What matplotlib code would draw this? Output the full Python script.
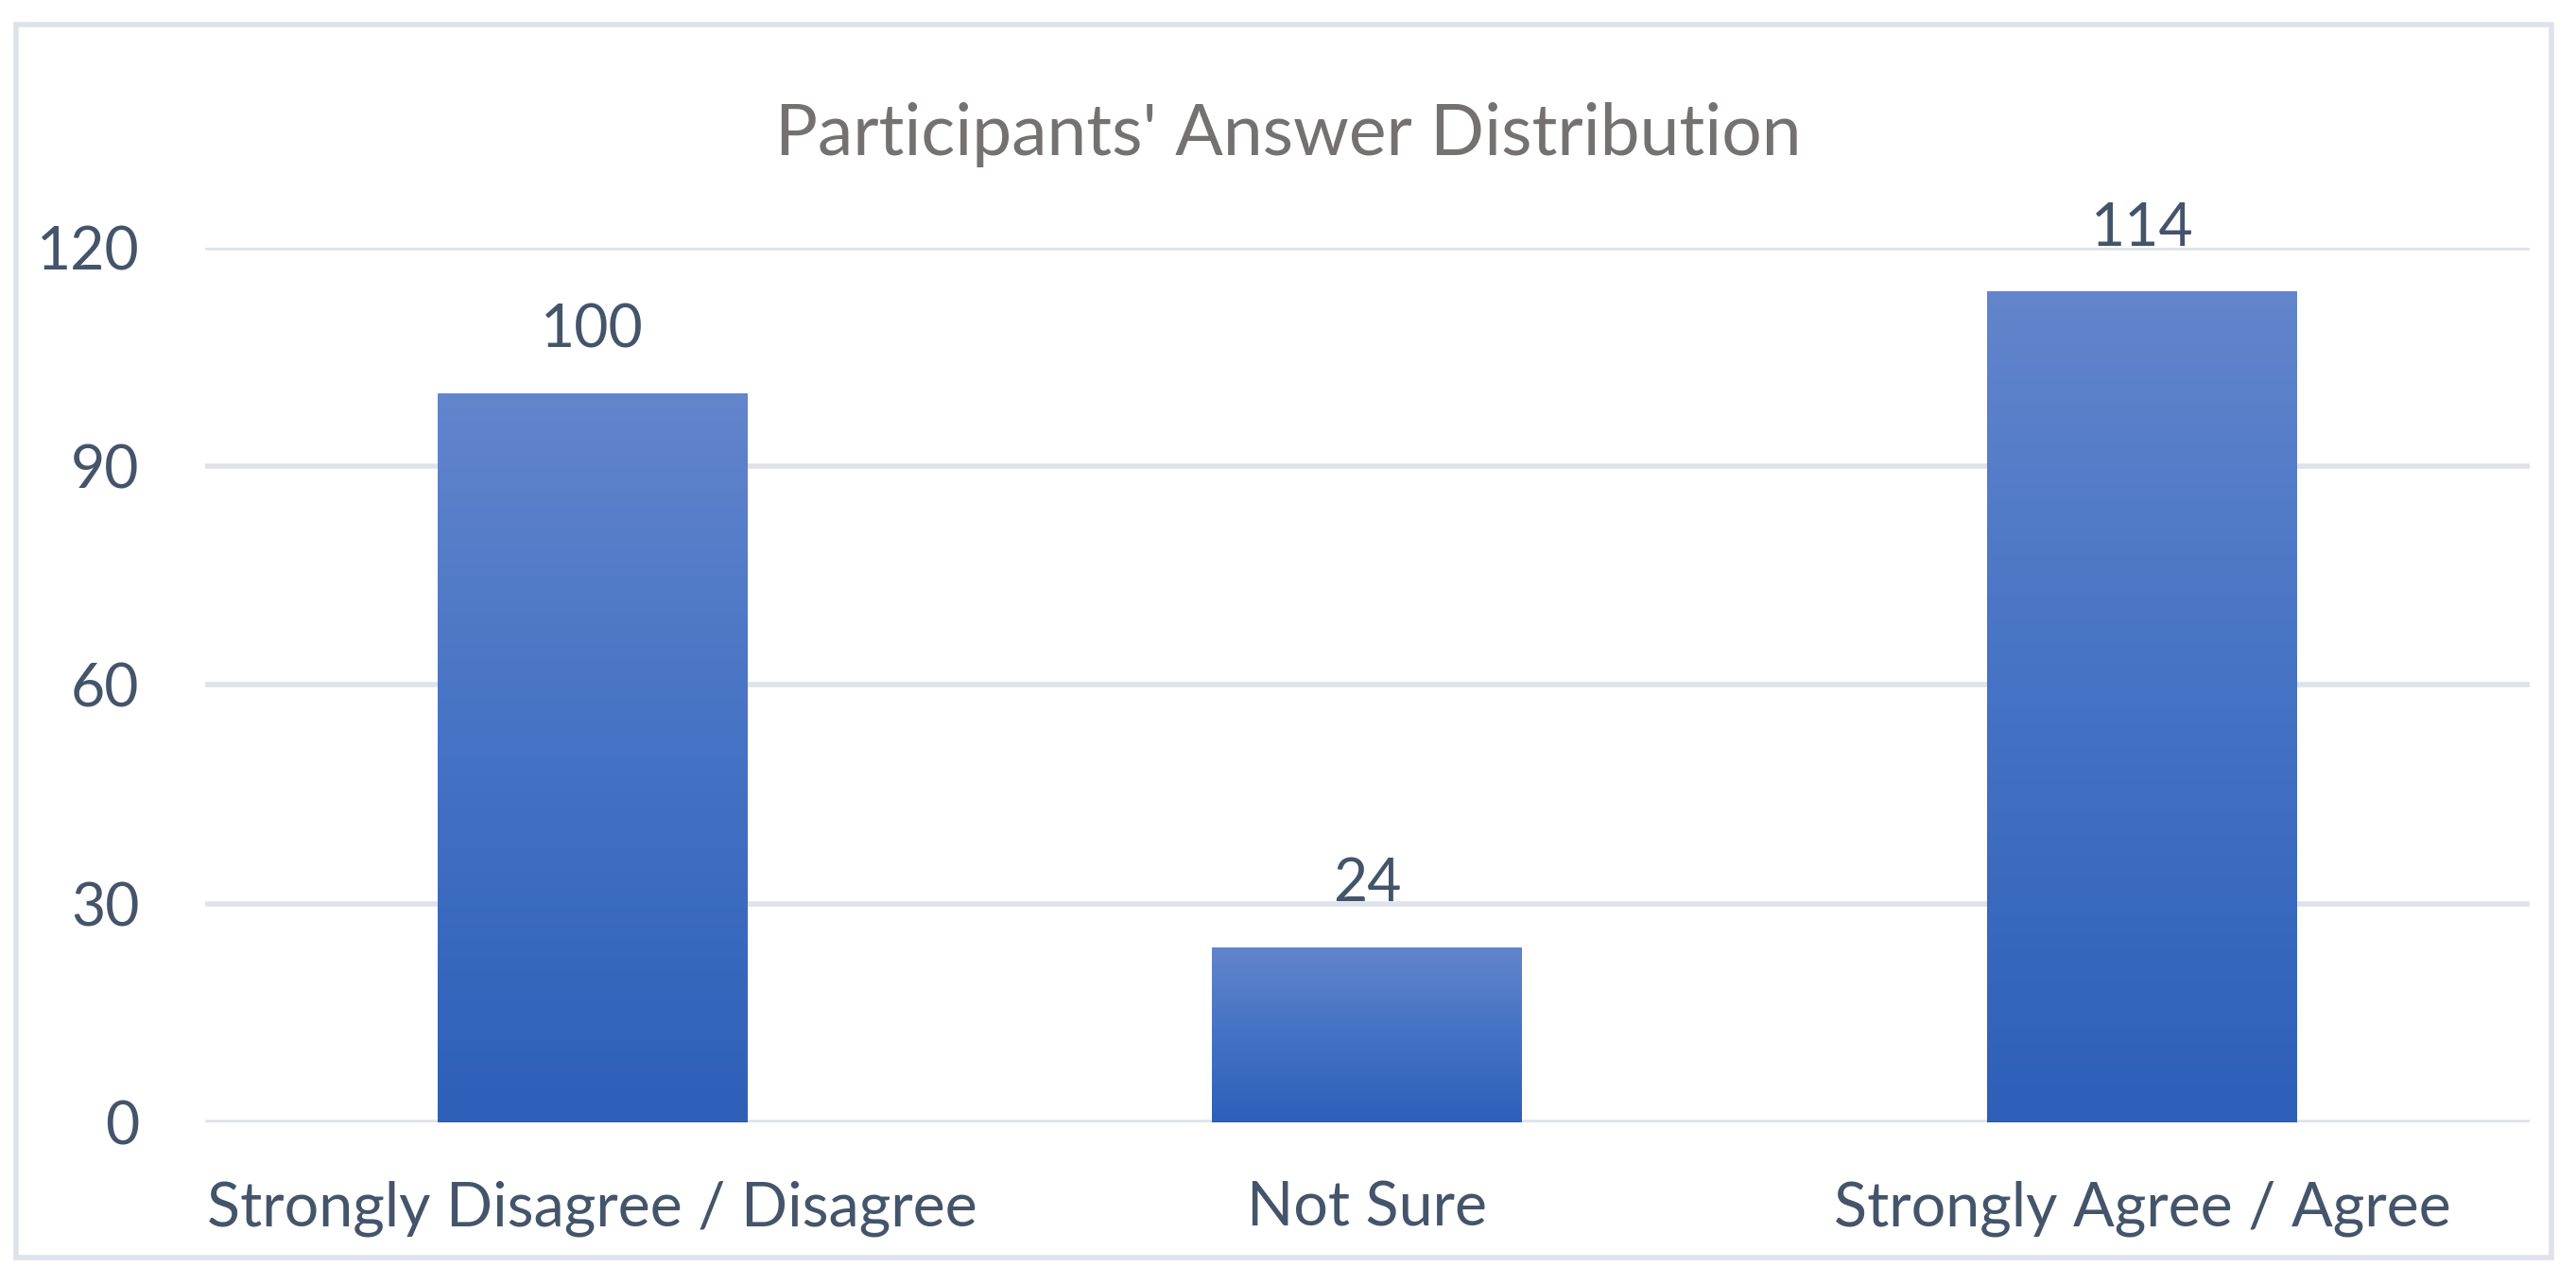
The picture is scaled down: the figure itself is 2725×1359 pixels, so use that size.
import numpy as np
import matplotlib
matplotlib.use("Agg")
import matplotlib.pyplot as plt
from matplotlib.colors import LinearSegmentedColormap
from matplotlib.patches import Rectangle

categories = ["Strongly Disagree / Disagree", "Not Sure", "Strongly Agree / Agree"]
counts = [100, 24, 114]
y_ticks = [0, 30, 60, 90, 120]
title = "Participants' Answer Distribution"

plt.rcParams["font.family"] = ["Lato", "DejaVu Sans"]
TEXT = "#44546a"
GRID = "#dee2ea"

fig = plt.figure(figsize=(27.25, 13.59), dpi=100)
ax = fig.add_axes([0.0796, 0.1266, 0.9024, 0.6806])

x = np.arange(len(categories))
bars = ax.bar(x, counts, width=0.4, color="none", zorder=3)

# vertical gradient inside each bar
grad = LinearSegmentedColormap.from_list("g", ["#2e5fb8", "#4472c4", "#6285cc"])
g = np.linspace(0, 1, 256).reshape(-1, 1)
for b in bars:
    x0, y0 = b.get_x(), b.get_y()
    im = ax.imshow(g, cmap=grad, origin="lower", aspect="auto", zorder=3,
                   extent=[x0, x0 + b.get_width(), y0, y0 + b.get_height()])
    im.set_clip_path(b)

for xi, v in zip(x, counts):
    ax.annotate(str(v), (xi, v), xytext=(0, 27), textcoords="offset points",
                ha="center", va="bottom", fontsize=45, color=TEXT,
                annotation_clip=False)

ax.set_xlim(-0.5, 2.5)
ax.set_ylim(0, 120)
ax.set_yticks(y_ticks)
ax.set_xticks(x)
ax.set_xticklabels(categories, fontsize=46.5)
ax.grid(axis="y", color=GRID, linewidth=4, zorder=0)
ax.set_axisbelow(True)
for s in ax.spines.values():
    s.set_visible(False)
ax.tick_params(axis="both", length=0, colors=TEXT)
ax.tick_params(axis="y", pad=50, labelsize=45)
ax.tick_params(axis="x", pad=44)

fig.text(0.5, 0.8955, title, ha="center", va="center", fontsize=54, color="#767171")

fig.patches.append(Rectangle((17 / 2725, 1 - 1330 / 1359), (2699 - 17) / 2725,
                             (1330 - 26) / 1359, transform=fig.transFigure,
                             fill=False, edgecolor=GRID, linewidth=4))

fig.savefig("out.png", dpi=100, facecolor="white")
